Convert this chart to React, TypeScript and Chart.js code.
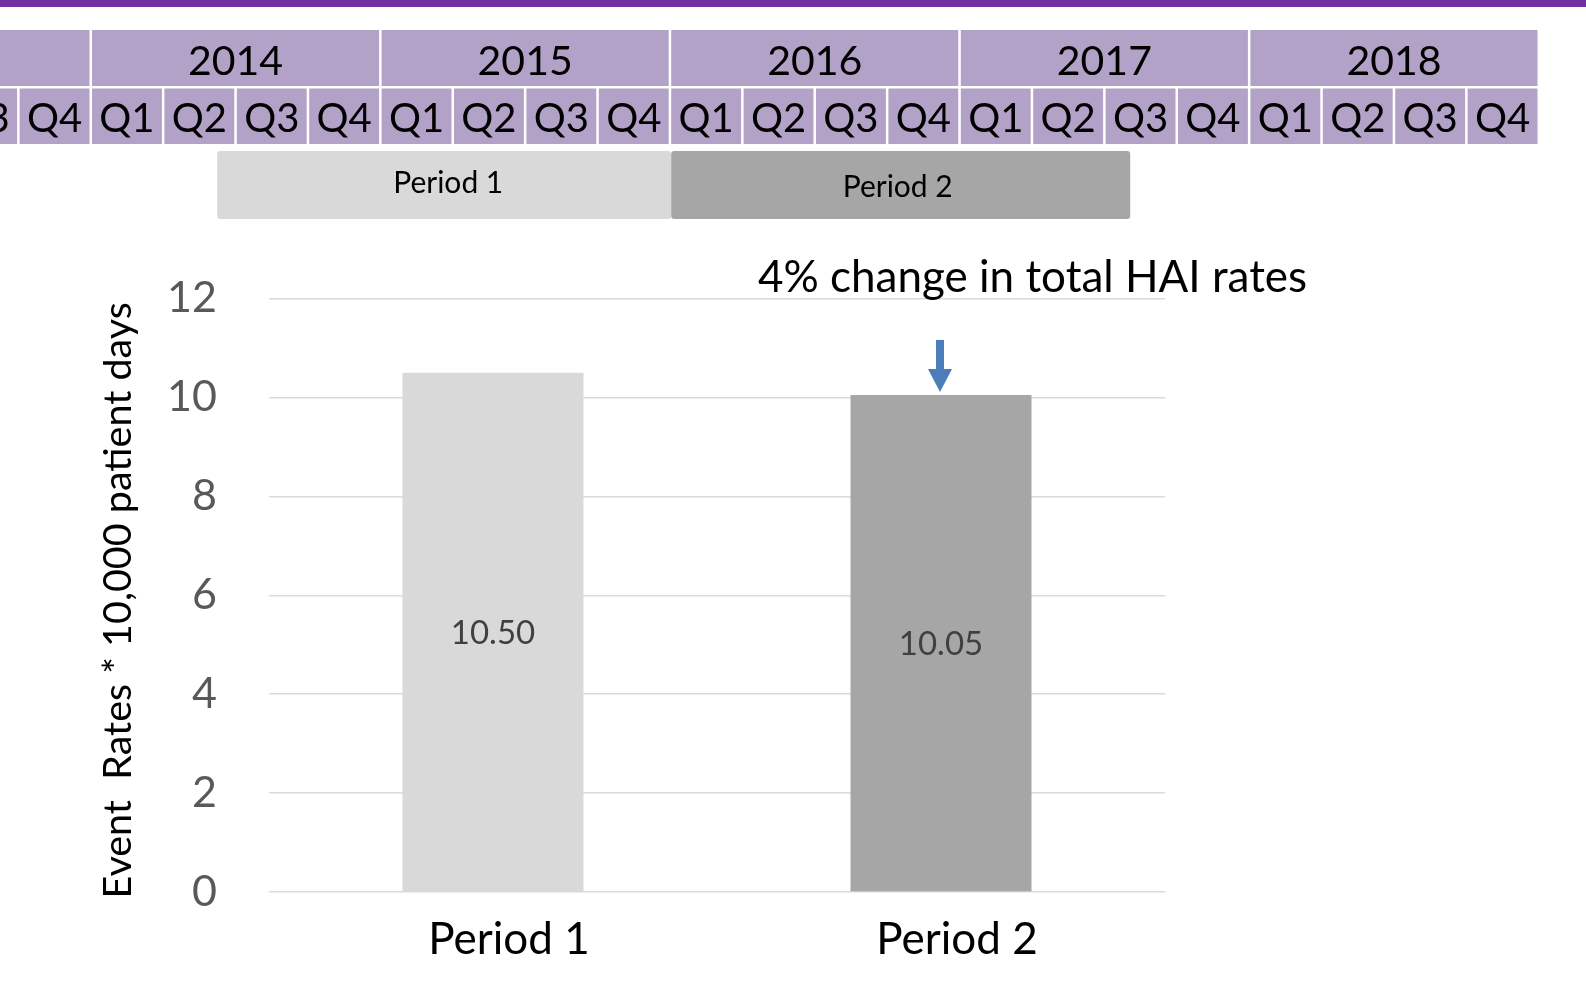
import React, { useEffect, useRef } from "react";
import { Chart, registerables } from "chart.js";

Chart.register(...registerables);

// ---- data ----
const categories = ["Period 1", "Period 2"];
const eventRates = [10.5, 10.05];
const barColors = ["#D9D9D9", "#A6A6A6"];
const yTickValues = [0, 2, 4, 6, 8, 10, 12];
const yTitle = "Event  Rates * 10,000 patient days ";
const years = ["2013", "2014", "2015", "2016", "2017", "2018"];
const quarters = ["Q1", "Q2", "Q3", "Q4"];
const periodNames = ["Period 1", "Period 2"];
// period spans measured in quarters from Q1 2014
const periodStarts = [1.73, 8.0];
const periodEnds = [8.0, 14.34];
const periodColors = ["#D9D9D9", "#A6A6A6"];
const annotationText = "4% change in total HAI rates";

const W = 1586;
const H = 982;
const FONT = "Lato, 'Noto Sans', sans-serif";
const CAP = 0.7165;

const headerPlugin = {
  id: "header",
  beforeDraw(chart: any) {
    const ctx = chart.ctx;
    ctx.save();
    ctx.fillStyle = "#FFFFFF";
    ctx.fillRect(0, 0, W, H);
    ctx.fillStyle = "#7030A0";
    ctx.fillRect(0, 0, W, 7);

    const X0 = 92; // start of Q1 2014
    const QP = 72.4;
    const GAP = 2.5;
    ctx.textAlign = "center";
    ctx.textBaseline = "alphabetic";
    years.forEach((yr, i) => {
      const x0 = X0 + (i - 1) * 4 * QP;
      const x1 = x0 + 4 * QP - GAP;
      ctx.fillStyle = "#B3A2C7";
      ctx.fillRect(x0, 30, x1 - x0, 56);
      ctx.fillStyle = "#000000";
      ctx.font = `41px ${FONT}`;
      ctx.fillText(yr, (x0 + x1) / 2, 75);
      quarters.forEach((q, j) => {
        const qx0 = x0 + j * QP;
        const qx1 = qx0 + QP - GAP;
        ctx.fillStyle = "#B3A2C7";
        ctx.fillRect(qx0, 88.5, qx1 - qx0, 55.5);
        ctx.fillStyle = "#000000";
        ctx.font = `40px ${FONT}`;
        ctx.fillText(q, (qx0 + qx1) / 2, 131.5);
      });
    });

    // period bars
    periodNames.forEach((name, i) => {
      const x0 = X0 + periodStarts[i] * QP;
      const x1 = X0 + periodEnds[i] * QP;
      ctx.fillStyle = periodColors[i];
      ctx.beginPath();
      if ((ctx as any).roundRect) {
        (ctx as any).roundRect(x0, 151, x1 - x0, 68, 3);
      } else {
        ctx.rect(x0, 151, x1 - x0, 68);
      }
      ctx.fill();
      ctx.fillStyle = "#000000";
      ctx.font = `30px ${FONT}`;
      ctx.fillText(name, (x0 + x1) / 2 + (i === 0 ? 4 : -3), i === 0 ? 193 : 196.5);
    });
    ctx.restore();
  },
};

const labelPlugin = {
  id: "barLabels",
  afterDatasetsDraw(chart: any) {
    const ctx = chart.ctx;
    const meta = chart.getDatasetMeta(0);
    ctx.save();
    const fs = 33;
    ctx.font = `${fs}px ${FONT}`;
    ctx.fillStyle = "#404040";
    ctx.textAlign = "center";
    ctx.textBaseline = "alphabetic";
    meta.data.forEach((bar: any, i: number) => {
      const mid = (bar.y + bar.base) / 2;
      ctx.fillText(eventRates[i].toFixed(2), bar.x, mid + (fs * CAP) / 2);
    });

    // arrow pointing at the second bar
    const b = meta.data[1];
    const tipY = b.y - 3;
    const headH = 23;
    const headW = 24;
    const shaftW = 8;
    const shaftH = 29;
    ctx.fillStyle = "#4A7EBB";
    ctx.fillRect(b.x - 1 - shaftW / 2, tipY - headH - shaftH, shaftW, shaftH + 1);
    ctx.beginPath();
    ctx.moveTo(b.x - 1 - headW / 2, tipY - headH);
    ctx.lineTo(b.x - 1 + headW / 2, tipY - headH);
    ctx.lineTo(b.x - 1, tipY);
    ctx.closePath();
    ctx.fill();

    // annotation text
    ctx.fillStyle = "#000000";
    ctx.font = `44px ${FONT}`;
    ctx.textAlign = "left";
    ctx.fillText(annotationText, 758, 292);
    ctx.restore();
  },
};

export default function App() {
  const ref = useRef<HTMLCanvasElement | null>(null);
  useEffect(() => {
    document.body.style.margin = "0";
    if (!ref.current) return;
    const chart = new Chart(ref.current, {
      type: "bar",
      data: {
        labels: categories,
        datasets: [
          {
            data: eventRates,
            backgroundColor: barColors,
            borderWidth: 0,
            barPercentage: 0.404,
            categoryPercentage: 1,
          },
        ],
      },
      options: {
        responsive: false,
        animation: false,
        devicePixelRatio: 1,
        layout: { padding: { left: 0, top: 298.5, right: W - 1165, bottom: 0 } },
        plugins: { legend: { display: false }, tooltip: { enabled: false } },
        scales: {
          x: {
            grid: { display: false, drawTicks: false },
            border: { display: false },
            ticks: {
              color: "#000000",
              font: { family: FONT, size: 44 },
              padding: 21,
              labelOffset: 16,
            },
            afterFit: (s: any) => {
              s.height = H - 892;
            },
          },
          y: {
            min: 0,
            max: 12,
            afterBuildTicks: (s: any) => {
              s.ticks = yTickValues.map((v) => ({ value: v }));
            },
            grid: { color: "#D9D9D9", lineWidth: 1.5, drawTicks: false },
            border: { display: false },
            ticks: {
              color: "#595959",
              font: { family: FONT, size: 43 },
              padding: 52,
            },
            title: {
              display: true,
              text: yTitle,
              color: "#000000",
              font: { family: FONT, size: 39.5 },
              padding: { top: 95, bottom: 0 },
            },
            afterFit: (s: any) => {
              s.width = 269;
            },
          },
        },
      },
      plugins: [headerPlugin, labelPlugin],
    });
    return () => chart.destroy();
  }, []);
  return (
    <canvas ref={ref} width={W} height={H} style={{ display: "block", width: W, height: H }} />
  );
}
